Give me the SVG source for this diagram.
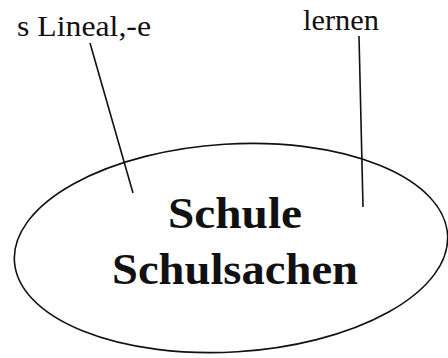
<svg xmlns="http://www.w3.org/2000/svg" width="448" height="358" viewBox="0 0 448 358">
<style>
.lbl{font-family:"Liberation Serif","Times New Roman",serif;font-size:29px;fill:#111}
.main{font-family:"Liberation Serif","Times New Roman",serif;font-size:45px;font-weight:bold;fill:#111;text-anchor:middle}
.ln{stroke:#111;stroke-width:1.6;fill:none}
</style>
<rect width="448" height="358" fill="#fff"/>
<g id="center">
<ellipse cx="231" cy="248" rx="217" ry="104" transform="rotate(-3.5 231 248)" class="ln"/>
<text class="main" x="235" y="228" textLength="134" lengthAdjust="spacingAndGlyphs">Schule</text>
<text class="main" x="235" y="284" textLength="246" lengthAdjust="spacingAndGlyphs">Schulsachen</text>
</g>
<g id="node-lineal">
<text class="lbl" x="17" y="36" textLength="134" lengthAdjust="spacingAndGlyphs">s Lineal,-e</text>
</g>
<g id="node-lernen">
<text class="lbl" x="303" y="30" textLength="76" lengthAdjust="spacingAndGlyphs">lernen</text>
</g>
<g id="connectors">
<line class="ln" x1="90" y1="43" x2="133" y2="193"/>
<line class="ln" x1="359" y1="36" x2="363" y2="207"/>
</g>
</svg>
